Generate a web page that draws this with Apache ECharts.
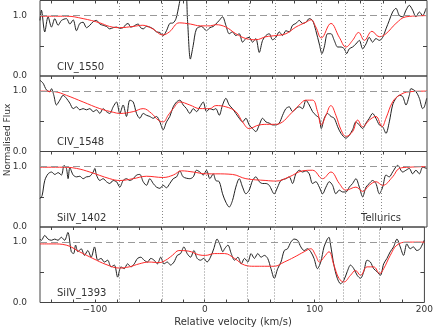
<!DOCTYPE html>
<html>
<head>
<meta charset="utf-8">
<script src="https://cdn.jsdelivr.net/npm/echarts@6/dist/echarts.min.js"></script>
<style>
  html, body { margin: 0; padding: 0; background: #fff; }
  #chart { width: 436px; height: 327px; }
</style>
</head>
<body>
<div id="chart"></div>
<script>
// panels, top to bottom
const panelNames = ['CIV_1550', 'CIV_1548', 'SiIV_1402', 'SiIV_1393']
// dotted component markers (km/s)
const componentVel = [-78, -39, 0, 39, 63, 104, 126, 142, 159]
const xTicks = [-140, -120, -100, -80, -60, -40, -20, 0, 20, 40, 60, 80, 100, 120, 140, 160, 180]
const xLabels = [-100, 0, 100, 200]
const yLabels = [0, 1]

// [velocity, normalised flux]
const civ1550Obs = [
  [-150, 0.92], [-148.7, 1.09], [-145.7, 0.73], [-142.7, 0.98], [-139.6, 0.81], [-136.6, 0.95], [-133.6, 0.84],
  [-130.6, 0.92], [-126.1, 0.95], [-123, 0.86], [-120, 0.93], [-117, 0.75], [-114, 0.87], [-111, 0.89],
  [-108, 0.80], [-104.9, 0.84], [-101.9, 0.90], [-98.9, 0.92], [-95.9, 0.86], [-92.9, 0.84], [-89.9, 0.82],
  [-86.9, 0.78], [-83.8, 0.80], [-80.8, 0.81], [-77.8, 0.79], [-74.8, 0.80], [-72.5, 0.85], [-70.3, 0.87],
  [-68, 0.81], [-65.7, 0.82], [-63, 0.85], [-61.2, 0.86], [-59, 0.80], [-56.7, 0.78], [-53.7, 0.82],
  [-50.7, 0.81], [-47.6, 0.78], [-44.6, 0.73], [-41.6, 0.72], [-38.6, 0.67], [-35.6, 0.75], [-32.6, 0.87],
  [-29.5, 0.88], [-27, 0.95], [-24, 1.2], [-21.5, 1.45], [-18.5, 1.45], [-16.5, 0.9], [-14, 0.28],
  [-11.5, 0.5], [-8.5, 0.78], [-3.9, 0.82], [0.6, 0.75], [3.6, 0.80], [6.7, 0.82],
  [9, 0.86], [12.1, 0.92], [15.1, 0.98], [18.1, 0.84], [21.1, 0.70], [24.1, 0.73], [27.1, 0.67],
  [30.2, 0.70], [33.2, 0.56], [36.2, 0.62], [39.2, 0.64], [42.2, 0.56], [45.2, 0.62], [48.3, 0.39],
  [51.3, 0.59], [54.3, 0.67], [57.3, 0.70], [60.3, 0.60], [63.3, 0.64], [66.4, 0.73], [69.4, 0.67],
  [72.4, 0.75], [75.4, 0.73], [78.4, 0.84], [81.4, 0.87], [84.5, 0.92], [87.5, 0.87], [90.5, 0.89],
  [93.5, 0.95], [96.5, 0.92], [99.5, 0.75], [102.6, 0.53], [105, 0.37], [107.1, 0.48], [110.1, 0.70],
  [113.1, 0.70], [116.1, 0.59], [119.2, 0.48], [122.2, 0.48], [125.2, 0.45], [127.3, 0.37], [129.7, 0.45],
  [132.7, 0.48], [135.7, 0.53], [138.8, 0.59], [141.8, 0.45], [144.8, 0.53], [147.8, 0.64], [150.8, 0.56],
  [153.8, 0.62], [156.9, 0.59], [159.9, 0.64], [162.9, 0.78], [165.9, 0.92], [168.9, 1.06], [171.9, 1.12],
  [175, 1.00], [178, 0.98], [181, 1.09], [184, 1.17], [187, 1.09], [190, 0.98], [193.1, 1.06],
  [196.1, 1.00], [199.1, 1.12]
]
const civ1550Fit = [
  [-150, 0.99], [-126, 0.99], [-111, 0.95], [-96, 0.88], [-87, 0.82], [-78, 0.80], [-66, 0.82],
  [-57, 0.84], [-48, 0.78], [-39, 0.68], [-33, 0.73], [-24, 0.88], [-14, 0.86], [-5, 0.83], [4, 0.83],
  [9, 0.85], [18.1, 0.81], [27.1, 0.70], [36.2, 0.62], [45.2, 0.60], [54.3, 0.65], [63.3, 0.67],
  [72.4, 0.70], [81.4, 0.81], [90.5, 0.89], [95, 0.93], [99.5, 0.81], [104.4, 0.63], [113.1, 0.87],
  [120.7, 0.64], [126.7, 0.48], [132.7, 0.59], [138.2, 0.72], [143.3, 0.59], [150.2, 0.74],
  [156.9, 0.65], [162.9, 0.70], [171.9, 0.87], [181, 0.98], [200, 1.0]
]

const civ1548Obs = [
  [-150, 1.18], [-147.2, 1.13], [-144.2, 1.02], [-141.2, 0.99], [-139.6, 1.04], [-137.5, 0.93], [-135.1, 0.77],
  [-132.1, 0.85], [-129.1, 0.93], [-126.1, 0.88], [-123, 0.80], [-120, 0.71], [-117, 0.74], [-114, 0.69],
  [-111, 0.71], [-108, 0.69], [-104.9, 0.71], [-101.9, 0.66], [-98.9, 0.69], [-95.9, 0.63], [-92.9, 0.71],
  [-89.9, 0.66], [-86.9, 0.63], [-83.8, 0.74], [-80.8, 0.82], [-77.8, 0.63], [-74.8, 0.77], [-71.8, 0.58],
  [-68.8, 0.85], [-65.7, 0.82], [-62.7, 0.63], [-59.7, 0.55], [-56.7, 0.63], [-53.7, 0.60], [-50.7, 0.58],
  [-47.6, 0.55], [-44.6, 0.58], [-41.6, 0.49], [-38.6, 0.36], [-35.6, 0.49], [-32.6, 0.58], [-29.5, 0.74],
  [-26.5, 0.82], [-23.5, 0.85], [-20.5, 0.77], [-17.5, 0.71], [-14.5, 0.63], [-11.4, 0.71], [-8.4, 0.66],
  [-5.4, 0.74], [-2.4, 0.82], [0.6, 0.66], [3.6, 0.71], [6.7, 0.69],
  [9, 0.71], [12.1, 0.60], [15.1, 0.77], [18.1, 0.88], [21.1, 0.77], [24.1, 0.71], [27.1, 0.63],
  [30.2, 0.55], [33.2, 0.49], [36.2, 0.55], [39.2, 0.44], [42.2, 0.38], [45.2, 0.33], [48.3, 0.44],
  [51.3, 0.55], [54.3, 0.49], [57.3, 0.47], [60.3, 0.44], [63.3, 0.44], [66.4, 0.47], [69.4, 0.60],
  [72.4, 0.71], [75.4, 0.74], [78.4, 0.66], [81.4, 0.71], [84.5, 0.74], [87.5, 0.71], [90.5, 0.85],
  [93.5, 0.77], [96.5, 0.66], [99.5, 0.60], [102.6, 0.55], [104.4, 0.38], [107.1, 0.55], [110.1, 0.63],
  [113.1, 0.58], [116.1, 0.55], [119.2, 0.41], [122.2, 0.30], [126.7, 0.22], [129.7, 0.27], [132.7, 0.36],
  [135.7, 0.49], [138.8, 0.44], [141.8, 0.38], [144.8, 0.47], [147.8, 0.55], [150.8, 0.63], [153.8, 0.55],
  [156.9, 0.44], [159.9, 0.41], [162.9, 0.30], [165.9, 0.49], [168.9, 0.77], [171.9, 0.88], [175, 0.93],
  [178, 0.91], [181, 0.77], [184, 0.93], [185.5, 1.04], [190, 0.99], [193.1, 0.88], [196.1, 0.71],
  [197.6, 0.74], [199.7, 0.88]
]
const civ1548Fit = [
  [-150, 1.0], [-136.6, 0.99], [-126.1, 0.93], [-111, 0.82], [-95.9, 0.71], [-83.8, 0.65], [-77.8, 0.63],
  [-65.7, 0.66], [-56.7, 0.71], [-49.1, 0.63], [-43.1, 0.52], [-38.6, 0.49], [-34.1, 0.60], [-29.5, 0.71],
  [-23.5, 0.82], [-14.5, 0.77], [-5.4, 0.71], [3.6, 0.71], [9, 0.76], [18.1, 0.74], [27.1, 0.66],
  [33.2, 0.49], [39.2, 0.38], [48.3, 0.44], [57.3, 0.45], [63.3, 0.45], [69.4, 0.49], [75.4, 0.60],
  [84.5, 0.77], [90.5, 0.85], [96.5, 0.85], [101, 0.66], [104.4, 0.44], [108.6, 0.60], [113.1, 0.76],
  [117.6, 0.60], [122.2, 0.36], [126.7, 0.25], [132.7, 0.33], [137.3, 0.52], [141.8, 0.41], [147.8, 0.52],
  [153.8, 0.58], [159.3, 0.41], [162.9, 0.55], [168.9, 0.82], [175, 0.93], [184, 0.99], [200, 1.0]
]

const siiv1402Obs = [
  [-150, 0.47], [-148.1, 0.52], [-145.7, 0.77], [-142.7, 0.88], [-139.6, 0.91], [-136.6, 0.87], [-133.6, 0.90],
  [-130.6, 0.86], [-128.2, 1.02], [-126.1, 0.97], [-124.6, 0.80], [-123, 0.98], [-120, 0.86], [-117, 0.83],
  [-114, 0.84], [-111, 0.80], [-108, 0.83], [-104.9, 0.84], [-101.9, 0.91], [-100.4, 0.97], [-98.9, 0.86],
  [-95.9, 0.77], [-92.9, 0.80], [-89.9, 0.75], [-86.9, 0.72], [-83.8, 0.77], [-80.8, 0.75], [-77.8, 0.66],
  [-74.8, 0.77], [-71.8, 0.80], [-68.8, 0.77], [-65.7, 0.80], [-62.7, 0.86], [-59.7, 0.87], [-56.7, 0.75],
  [-53.7, 0.69], [-50.7, 0.80], [-47.6, 0.72], [-44.6, 0.66], [-41.6, 0.64], [-38.6, 0.69], [-35.6, 0.65],
  [-32.6, 0.72], [-29.5, 0.80], [-26.5, 0.83], [-23.5, 0.93], [-20.5, 0.83], [-14.5, 0.80], [-11.4, 0.83],
  [-8.4, 0.94], [-5.4, 0.91], [-2.4, 0.86], [0.6, 0.94], [3.6, 0.80], [6.7, 0.88],
  [9, 0.77], [12.1, 0.75], [15.1, 0.55], [18.1, 0.41], [21.1, 0.33], [24.1, 0.44], [27.1, 0.66],
  [30.2, 0.80], [33.2, 0.66], [36.2, 0.55], [39.2, 0.61], [42.2, 0.77], [45.2, 0.83], [48.3, 0.75],
  [51.3, 0.72], [54.3, 0.72], [57.3, 0.69], [61.8, 0.55], [64.9, 0.66], [67.9, 0.77], [72.4, 0.80],
  [75.4, 0.83], [78.4, 0.72], [81.4, 0.88], [84.5, 0.94], [87.5, 0.91], [90.5, 0.93], [93.5, 0.88],
  [96.5, 0.72], [99.5, 0.75], [102.6, 0.66], [105.6, 0.55], [108.6, 0.66], [111.6, 0.75], [114.6, 0.69],
  [117.6, 0.55], [120.7, 0.61], [123.7, 0.58], [126.7, 0.58], [129.7, 0.66], [132.7, 0.72], [135.7, 0.80],
  [138.8, 0.66], [141.8, 0.50], [144.8, 0.66], [147.8, 0.72], [150.8, 0.77], [153.8, 0.72], [156.9, 0.55],
  [159.9, 0.66], [162.9, 0.86], [165.9, 0.83], [168.9, 0.91], [173.5, 1.02], [178, 0.91], [181, 0.94],
  [184, 0.97], [187, 0.88], [190, 0.94], [193.1, 0.88], [196.1, 0.99], [199.7, 0.97]
]
const siiv1402Fit = [
  [-150, 0.99], [-129.1, 0.99], [-117, 0.97], [-104.9, 0.91], [-86.9, 0.80], [-77.8, 0.77], [-65.7, 0.80],
  [-53.7, 0.84], [-38.6, 0.82], [-29.5, 0.86], [-22, 0.93], [-11.4, 0.91], [0.6, 0.88], [9, 0.88],
  [24.1, 0.87], [36.2, 0.80], [54.3, 0.77], [63.3, 0.76], [75.4, 0.83], [87.5, 0.93], [96.5, 0.94],
  [105.6, 0.80], [113.1, 0.91], [120.7, 0.72], [126.7, 0.61], [135.7, 0.66], [141.8, 0.59], [147.8, 0.69],
  [153.8, 0.75], [159.9, 0.69], [168.9, 0.83], [175, 0.97], [184, 0.99], [200, 1.0]
]

const siiv1393Obs = [
  [-150, 1.05], [-148.7, 1.03], [-145.7, 1.11], [-142.7, 1.05], [-139.6, 1.03], [-136.6, 1.05], [-133.6, 1.03],
  [-130.6, 1.08], [-127.6, 1.03], [-124.6, 1.16], [-121.5, 0.84], [-119.4, 0.81], [-117.6, 0.95], [-115.5, 0.84],
  [-112.5, 0.89], [-109.5, 0.78], [-106.5, 0.86], [-103.4, 0.75], [-100.4, 0.92], [-97.4, 0.70], [-94.4, 0.73],
  [-91.4, 0.67], [-88.4, 0.70], [-85.3, 0.59], [-82.3, 0.62], [-79.3, 0.42], [-76.3, 0.59], [-73.3, 0.56],
  [-70.3, 0.64], [-67.2, 0.59], [-64.2, 0.64], [-61.2, 0.73], [-58.2, 0.75], [-55.2, 0.70], [-52.2, 0.67],
  [-49.1, 0.73], [-46.1, 0.70], [-43.1, 0.64], [-40.1, 0.75], [-37.1, 0.64], [-34.1, 0.67], [-31.1, 0.62],
  [-28, 0.67], [-25, 0.78], [-22, 0.81], [-19, 0.92], [-16, 0.81], [-12.9, 0.75], [-9.9, 0.86], [-6.9, 0.73],
  [-3.9, 0.70], [-0.9, 0.73], [2.1, 0.67], [5.2, 0.75], [8.2, 0.89], [11.2, 1.05],
  [14, 0.95], [16.5, 0.84], [18.1, 0.89], [21.1, 0.95], [24.1, 0.81], [27.1, 0.70], [30.2, 0.75],
  [33.2, 0.64], [36.2, 0.73], [39.2, 0.67], [42.2, 0.81], [45.2, 0.73], [48.3, 0.81], [51.3, 0.75],
  [54.3, 0.78], [57.3, 0.73], [60.3, 0.56], [63.3, 0.40], [66.4, 0.56], [69.4, 0.67], [72.4, 0.86],
  [75.4, 0.89], [78.4, 1.0], [81.4, 1.05], [84.5, 1.03], [87.5, 0.92], [90.5, 0.86], [93.5, 0.89],
  [96.5, 0.84], [99.5, 0.73], [102.6, 0.56], [105.6, 0.67], [108.6, 0.92], [111.6, 1.05], [113.1, 1.08],
  [114.6, 0.95], [117.6, 0.62], [120.7, 0.40], [123.7, 0.31], [126.7, 0.37], [129.7, 0.51], [132.7, 0.62],
  [135.7, 0.56], [138.8, 0.45], [141.8, 0.40], [144.8, 0.51], [147.8, 0.70], [150.8, 0.67], [153.8, 0.56],
  [156.9, 0.51], [159.9, 0.45], [162.9, 0.64], [165.9, 0.73], [168.9, 0.84], [171.9, 0.92], [175, 1.05],
  [178, 0.92], [181, 0.78], [184, 0.97], [187, 0.89], [190, 0.92], [193.1, 0.86], [196.1, 0.89], [199.7, 1.03]
]
const siiv1393Fit = [
  [-150, 0.97], [-138.1, 0.97], [-126.1, 0.95], [-114, 0.84], [-101.9, 0.73], [-89.9, 0.63], [-77.8, 0.57],
  [-68.8, 0.59], [-59.7, 0.64], [-50.7, 0.67], [-41.6, 0.66], [-35.6, 0.70], [-29.5, 0.78], [-23.5, 0.86],
  [-14.5, 0.85], [-5.4, 0.79], [0.6, 0.78], [9, 0.81], [18.1, 0.81], [27.1, 0.73], [36.2, 0.62],
  [45.2, 0.60], [54.3, 0.60], [63.3, 0.60], [72.4, 0.67], [81.4, 0.75], [90.5, 0.84], [96.5, 0.89],
  [101, 0.78], [104.4, 0.67], [108.6, 0.75], [113.1, 0.84], [117.6, 0.62], [122.2, 0.40], [126.7, 0.34],
  [132.7, 0.45], [137.3, 0.53], [141.8, 0.45], [147.8, 0.59], [153.8, 0.59], [159.3, 0.48], [162.9, 0.56],
  [168.9, 0.78], [175, 0.95], [184, 1.0], [200, 1.0]
]

const observed = [civ1550Obs, civ1548Obs, siiv1402Obs, siiv1393Obs]
const fitted = [civ1550Fit, civ1548Fit, siiv1402Fit, siiv1393Fit]

const FONT = 'DejaVu Sans'
const INK = '#333'
const PANEL_TOP = 0.5
const PANEL_H = 75.5

let grid = [], xAxis = [], yAxis = [], series = [], graphic = []

panelNames.forEach((name, i) => {
  let top = PANEL_TOP + i * PANEL_H
  grid.push({ left: 40, right: 9, top: top, height: PANEL_H, show: true, borderColor: '#444', borderWidth: 1 })

  // top edge ticks (pointing in)
  xAxis.push({
    gridIndex: i, type: 'value', position: 'top', min: -150, max: 200,
    axisLine: { show: false, onZero: false },
    axisTick: { inside: true, length: 3, customValues: xTicks, lineStyle: { color: '#444' } },
    axisLabel: { show: false },
    splitLine: { show: false }
  })
  yAxis.push({
    gridIndex: i, type: 'value', position: 'left', min: 0, max: 1.25,
    axisLine: { show: false, onZero: false },
    axisTick: { inside: true, length: 4, customValues: [0.5], lineStyle: { color: '#444' } },
    axisLabel: {
      customValues: yLabels, margin: 13, fontSize: 9, fontFamily: FONT, color: INK,
      padding: [0, 0, 3, 0],
      formatter: v => v.toFixed(1)
    },
    splitLine: { show: false }
  })
  yAxis.push({
    gridIndex: i, type: 'value', position: 'right', min: 0, max: 1.25,
    axisLine: { show: false, onZero: false },
    axisTick: { inside: true, length: 4, customValues: [0.5], lineStyle: { color: '#444' } },
    axisLabel: { show: false },
    splitLine: { show: false }
  })

  series.push({
    name: name, type: 'line', xAxisIndex: i, yAxisIndex: i * 2,
    data: observed[i], showSymbol: false, smooth: 0.3,
    lineStyle: { color: '#222', width: 1 },
    markLine: {
      silent: true, symbol: ['none', 'none'], label: { show: false },
      lineStyle: { color: '#888', width: 1, type: [1, 2] },
      data: [{ yAxis: 1, lineStyle: { color: '#999', type: [7, 4] } }].concat(componentVel.map(v => ({ xAxis: v })))
    }
  })
  series.push({
    name: name + ' fit', type: 'line', xAxisIndex: i, yAxisIndex: i * 2,
    data: fitted[i], showSymbol: false, smooth: 0.4,
    lineStyle: { color: '#ff2a2a', width: 1 }
  })

  graphic.push({
    type: 'text', x: 57, y: top + PANEL_H - 9,
    style: { text: name, fill: INK, font: '10px ' + FONT, verticalAlign: 'middle' }
  })
})

// bottom axis with labels
xAxis.push({
  gridIndex: 3, type: 'value', position: 'bottom', min: -150, max: 200,
  axisLine: { show: false, onZero: false },
  axisTick: { inside: true, length: 3, customValues: xTicks, lineStyle: { color: '#444' } },
  axisLabel: {
    customValues: xLabels, margin: 3, fontSize: 9, fontFamily: FONT, color: INK,
    formatter: v => (v < 0 ? '\u2212' + Math.abs(v) : String(v))
  },
  splitLine: { show: false }
})

graphic.push({
  type: 'text', x: 361, y: 218,
  style: { text: 'Tellurics', fill: INK, font: '10px ' + FONT, verticalAlign: 'middle' }
})
graphic.push({
  type: 'text', x: 233, y: 322,
  style: { text: 'Relative velocity (km/s)', fill: INK, font: '10px ' + FONT, align: 'center', verticalAlign: 'middle' }
})
graphic.push({
  type: 'text', x: 8, y: 140, rotation: Math.PI / 2,
  style: { text: 'Normalised Flux', fill: INK, font: '9px ' + FONT, align: 'center', verticalAlign: 'middle' }
})

let myChart = echarts.init(document.getElementById('chart'))
myChart.setOption({
  animation: false,
  backgroundColor: '#fff',
  grid, xAxis, yAxis, series, graphic
})
</script>
</body>
</html>
